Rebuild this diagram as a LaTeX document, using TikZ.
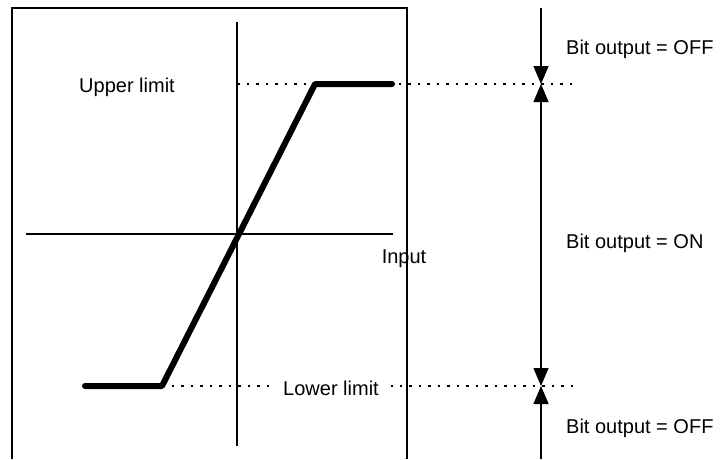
\documentclass[tikz,border=0pt]{standalone}
\usepackage{fontspec}
\setmainfont{Liberation Sans}
\usetikzlibrary{arrows.meta,positioning}

\begin{document}
\begin{tikzpicture}[x=1pt,y=-1pt,
  lbl/.style={font=\fontsize{20}{24}\selectfont, inner sep=0pt, anchor=base},
  frame/.style={line width=1.5pt},
  axis/.style={line width=1.2pt},
  curve/.style={line width=6pt, line cap=round, line join=round},
  guide/.style={line width=1.2pt, dash pattern=on 2.5pt off 7pt},
  band/.style={line width=1.3pt, -{Triangle[length=18pt,width=15pt]}}
]
\useasboundingbox (0,0) rectangle (725,459);

% frame, open at the bottom
\draw[frame] (12,459) -- (12,8) -- (407,8) -- (407,459);

% axes
\coordinate (ytop) at (237,22);
\coordinate (ybot) at (237,446);
\coordinate (xleft) at (26,234);
\coordinate (xright) at (393,234);
\draw[axis] (ytop) -- (ybot);
\draw[axis] (xleft) -- (xright);

% limit levels
\coordinate (hi) at (237,84);
\coordinate (lo) at (162,386);
\coordinate (hiend) at (577,84);
\coordinate (loend) at (577,386);
\draw[guide] (hi) -- (hiend);
\draw[guide] (lo) -- (loend);

% characteristic
\coordinate (c1) at (85,386);
\coordinate (c2) at (315,84);
\coordinate (c3) at (392,84);
\draw[curve] (c1) -- (lo) -- (c2) -- (c3);

\node[lbl] (upper) at (127,92) {Upper limit};
\node[lbl, fill=white, inner xsep=12pt] (lower) at (331,395) {Lower limit};
\node[lbl] (input) at (404,263) {Input};

% output bands
\coordinate (btop) at (541,8);
\coordinate (bhi) at (541,84);
\coordinate (blo) at (541,386);
\coordinate (bbot) at (541,459);
\draw[band] (btop) -- (bhi);
\draw[band] (bbot) -- (blo);
\draw[band, {Triangle[length=18pt,width=15pt]}-{Triangle[length=18pt,width=15pt]}] (bhi) -- (blo);

\node[lbl, anchor=base west] (off1) at (566,54) {Bit output = OFF};
\node[lbl, anchor=base west] (on) at (566,248) {Bit output = ON};
\node[lbl, anchor=base west] (off2) at (566,433) {Bit output = OFF};
\end{tikzpicture}
\end{document}
